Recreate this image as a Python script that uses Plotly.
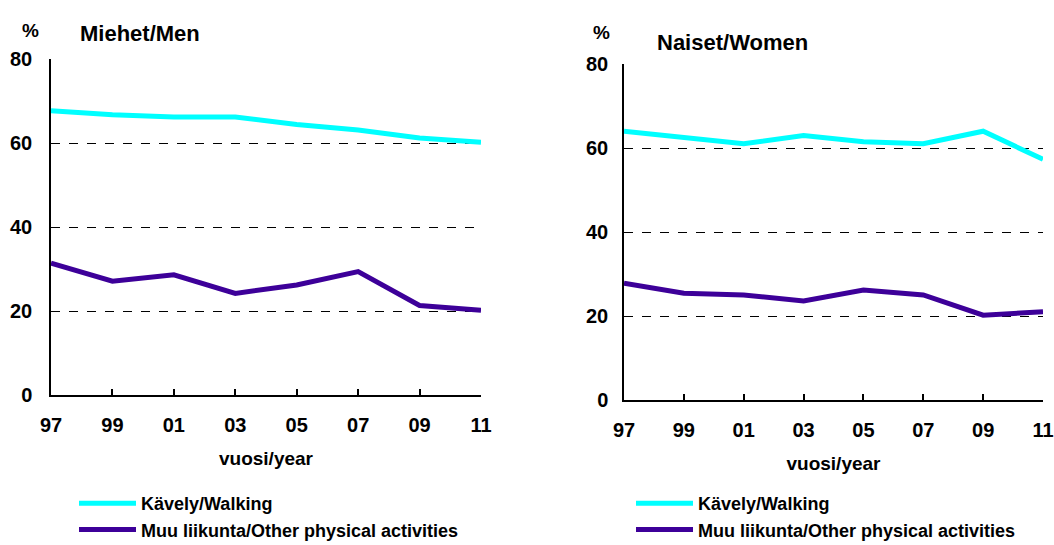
import plotly.graph_objects as go

years = [1997, 1999, 2001, 2003, 2005, 2007, 2009, 2011]
year_labels = ["97", "99", "01", "03", "05", "07", "09", "11"]

men_walking = [67.7, 66.7, 66.2, 66.2, 64.4, 63.1, 61.2, 60.2]
men_other = [31.4, 27.1, 28.6, 24.2, 26.2, 29.4, 21.3, 20.2]
women_walking = [64.0, 62.5, 61.0, 63.0, 61.5, 61.0, 64.0, 57.3]
women_other = [27.8, 25.4, 25.0, 23.6, 26.2, 25.0, 20.2, 21.0]

series_names = ["Kävely/Walking", "Muu liikunta/Other physical activities"]
colors = ["#00FFFF", "#3D0099"]
y_ticks = [0, 20, 40, 60, 80]

W, H = 1054, 545
FONT = "Liberation Sans, Arial, sans-serif"

fig = go.Figure()
for vals, name, col in zip([men_walking, men_other], series_names, colors):
    fig.add_trace(go.Scatter(x=years, y=vals, mode="lines", name=name,
                             line=dict(color=col, width=5),
                             xaxis="x", yaxis="y", legend="legend"))
for vals, name, col in zip([women_walking, women_other], series_names, colors):
    fig.add_trace(go.Scatter(x=years, y=vals, mode="lines", name=name,
                             line=dict(color=col, width=5),
                             xaxis="x2", yaxis="y2", legend="legend2"))

def px_x(p):
    return p / W

def px_y(p):
    return 1 - p / H

xax = dict(range=[1997, 2011], tickvals=years, ticktext=year_labels,
           showline=True, linecolor="black", linewidth=1.5,
           ticks="inside", ticklen=6, tickwidth=1.5, tickcolor="black",
           showgrid=False, zeroline=False, ticklabelstandoff=11,
           tickfont=dict(family=FONT, size=20, color="black", weight="bold"),
           title=dict(text="<b>vuosi/year</b>", standoff=17,
                      font=dict(family=FONT, size=19, color="black")))
yax = dict(range=[0, 80], tickvals=y_ticks, showline=True, linecolor="black",
           linewidth=1.5, ticks="", showgrid=True, gridcolor="black",
           griddash="dash", gridwidth=1, zeroline=False,
           tickfont=dict(family=FONT, size=20, color="black", weight="bold"))

legend_font = dict(family=FONT, size=18, color="black", weight="bold")

fig.update_layout(
    width=W, height=H,
    margin=dict(l=0, r=0, t=0, b=0, autoexpand=False),
    paper_bgcolor="white", plot_bgcolor="white",
    font=dict(family=FONT, color="black"),
    xaxis=dict(domain=[px_x(51), px_x(481)], anchor="y", **xax),
    yaxis=dict(domain=[px_y(395), px_y(59)], anchor="x", ticklabelstandoff=13, **yax),
    xaxis2=dict(domain=[px_x(624), px_x(1043)], anchor="y2", **xax),
    yaxis2=dict(domain=[px_y(400), px_y(64)], anchor="x2", ticklabelstandoff=10, **yax),
    legend=dict(x=px_x(74), y=px_y(485), xanchor="left", yanchor="top",
                itemwidth=57, tracegroupgap=0, font=legend_font,
                bgcolor="rgba(0,0,0,0)"),
    legend2=dict(x=px_x(631), y=px_y(485), xanchor="left", yanchor="top",
                 itemwidth=57, tracegroupgap=0, font=legend_font,
                 bgcolor="rgba(0,0,0,0)"),
    annotations=[
        dict(text="<b>%</b>", x=px_x(20), y=px_y(18), xref="paper", yref="paper",
             showarrow=False, font=dict(family=FONT, size=19)),
        dict(text="<b>Miehet/Men</b>", x=px_x(78), y=px_y(19), xref="paper",
             yref="paper", xanchor="left", showarrow=False,
             font=dict(family=FONT, size=22)),
        dict(text="<b>%</b>", x=px_x(601), y=px_y(20), xref="paper", yref="paper",
             showarrow=False, font=dict(family=FONT, size=19)),
        dict(text="<b>Naiset/Women</b>", x=px_x(655), y=px_y(28), xref="paper",
             yref="paper", xanchor="left", showarrow=False,
             font=dict(family=FONT, size=22)),
    ],
)

fig.write_html("out.html", config={"displayModeBar": False},
               post_script="document.body.style.margin='0px';"
                           "document.body.style.overflow='hidden';")
